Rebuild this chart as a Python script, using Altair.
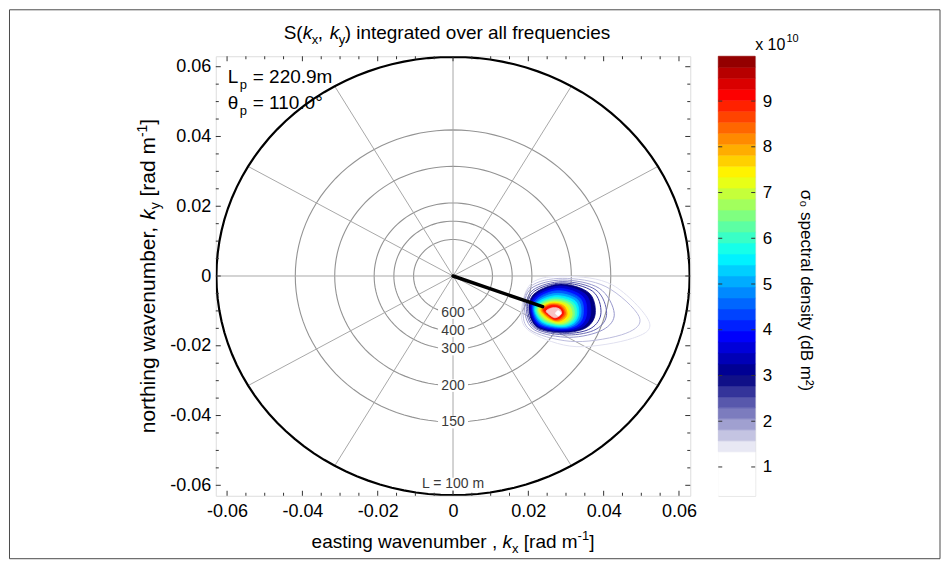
import math
import altair as alt
import pandas as pd

FONT = "Liberation Sans, Arial, Helvetica, DejaVu Sans, sans-serif"

# ---------------- data ----------------
X_DOMAIN = [-0.063, 0.063]
Y_DOMAIN = [-0.063, 0.063]
AXIS_TICKS = [-0.06, -0.04, -0.02, 0.0, 0.02, 0.04, 0.06]
MINOR_TICKS = [i * 0.005 for i in range(-12, 13) if i % 4 != 0]

RING_WAVELENGTHS = [600, 400, 300, 200, 150]      # m
RING_LABELS = ["600", "400", "300", "200", "150"]
OUTER_WAVELENGTH = 100
OUTER_LABEL = "L = 100 m"
SPOKE_ANGLES = list(range(0, 360, 30))

PEAK_TIP_KX = 0.0238
PEAK_TIP_KY = -0.0088

CB_MIN, CB_MAX = 0.37, 9.98
CB_TICKS = [1, 2, 3, 4, 5, 6, 7, 8, 9]
CB_NBANDS = 40

# contour lines (unfilled), k in 1e-3 rad/m
LINE_LEVELS = [1.5, 1.75, 2.0, 2.3, 2.6]
LINE_KX = [
    [18.15, 20.79, 30.04, 42.37, 52.07, 47.66, 32.68, 21.23],
    [18.59, 20.53, 29.16, 40.61, 49.42, 45.90, 32.68, 21.23],
    [19.03, 20.79, 29.16, 38.85, 42.81, 39.73, 30.92, 21.67],
    [19.47, 21.23, 29.16, 37.97, 40.79, 37.97, 30.48, 21.93],
    [19.82, 21.58, 28.98, 37.09, 39.29, 36.65, 30.04, 22.11],
]
LINE_KY = [
    [-11.17, -2.10, -0.10, -2.58, -13.08, -17.86, -20.25, -16.43],
    [-10.70, -3.06, -0.67, -3.06, -11.65, -16.43, -18.81, -15.95],
    [-9.74, -3.53, -1.15, -3.53, -10.70, -15.47, -17.57, -15.47],
    [-9.55, -4.01, -1.62, -4.01, -10.70, -15.28, -16.90, -15.09],
    [-9.36, -4.39, -2.00, -4.39, -10.50, -14.99, -16.43, -14.80],
]
# filled contours, k in 1e-3 rad/m
FILL_LEVELS = [3.0, 3.5, 4.0, 4.5, 5.0, 5.5, 6.0, 6.5, 7.0, 7.5, 8.0, 8.5, 9.0]
FILL_KX = [
    [20.17, 21.93, 28.72, 36.03, 37.79, 35.50, 29.60, 22.29],
    [20.53, 22.29, 28.54, 35.15, 36.56, 34.62, 29.33, 22.55],
    [20.88, 22.55, 28.28, 34.27, 35.50, 33.82, 29.16, 22.82],
    [21.14, 22.82, 28.01, 33.56, 34.62, 33.21, 28.98, 23.08],
    [21.41, 23.08, 27.84, 32.95, 34.00, 32.59, 28.81, 23.34],
    [21.67, 23.34, 27.66, 32.33, 33.39, 32.07, 28.63, 23.61],
    [21.93, 23.61, 27.49, 31.80, 32.86, 31.63, 28.45, 23.87],
    [22.29, 23.87, 27.31, 31.19, 32.24, 31.10, 28.28, 24.14],
    [22.64, 24.14, 27.13, 30.57, 31.63, 30.57, 28.10, 24.49],
    [22.99, 24.40, 27.04, 29.95, 30.92, 29.95, 27.84, 24.84],
    [23.34, 24.58, 26.96, 29.42, 30.30, 29.42, 27.57, 25.19],
    [23.70, 24.84, 26.87, 28.98, 29.86, 28.98, 27.31, 25.46],
    [24.05, 25.11, 26.78, 28.63, 29.42, 28.54, 27.04, 25.63],
]
FILL_KY = [
    [-9.26, -4.77, -2.29, -4.77, -10.50, -14.71, -16.14, -14.61],
    [-9.26, -5.16, -2.86, -5.25, -10.50, -14.42, -15.76, -14.32],
    [-9.26, -5.63, -3.53, -5.73, -10.50, -14.13, -15.37, -14.04],
    [-9.36, -6.11, -4.20, -6.21, -10.50, -13.85, -15.09, -13.75],
    [-9.45, -6.59, -4.97, -6.68, -10.50, -13.66, -14.80, -13.46],
    [-9.55, -6.97, -5.63, -7.07, -10.60, -13.46, -14.52, -13.18],
    [-9.64, -7.35, -6.21, -7.54, -10.70, -13.27, -14.23, -12.99],
    [-9.74, -7.64, -6.68, -7.83, -10.79, -13.08, -13.94, -12.70],
    [-9.74, -7.93, -7.16, -8.12, -10.89, -12.89, -13.66, -12.41],
    [-9.84, -8.21, -7.54, -8.40, -10.89, -12.61, -13.27, -12.13],
    [-9.84, -8.40, -7.83, -8.59, -10.79, -12.32, -12.99, -11.94],
    [-9.84, -8.59, -8.12, -8.79, -10.70, -12.13, -12.70, -11.75],
    [-9.84, -8.79, -8.40, -8.98, -10.60, -11.94, -12.41, -11.55],
]
CORE_COLORS = ["#f7c4c4", "#ffffff"]
CORE_KX = [
    [24.75, 25.63, 26.96, 28.28, 28.81, 28.10, 26.96, 25.81],
    [27.22, 27.93, 28.63, 27.93],
]
CORE_KY = [
    [-10.12, -9.36, -9.07, -9.45, -10.60, -11.55, -11.94, -11.27],
    [-10.70, -9.93, -10.70, -11.36],
]

# ---------------- layout / style ----------------
W, H = 475, 440
CBW = 37
RING_COLOR = "#939393"
SPOKE_COLOR = "#a8a8a8"
LABEL_COLOR = "#3a3a3a"

ARIAL = {' ': 278, ',': 278, '(': 333, ')': 333, '[': 278, ']': 278, '-': 333,
         '.': 278, '=': 584, 'a': 556, 'b': 556, 'c': 500, 'd': 556, 'e': 556,
         'f': 278, 'g': 556, 'h': 556, 'i': 222, 'k': 500, 'l': 222, 'm': 833,
         'n': 556, 'o': 556, 'p': 556, 'q': 556, 'r': 333, 's': 500, 't': 278,
         'u': 556, 'v': 500, 'w': 722, 'x': 500, 'y': 500, 'S': 667, 'L': 556}


def tw(s, size):
    return sum(ARIAL.get(c, 556) for c in s) * size / 1000.0


def hexc(r, g, b):
    return "#%02x%02x%02x" % (int(round(r * 255)), int(round(g * 255)), int(round(b * 255)))


def cmap(v):
    if v <= 1.3:
        return "#ffffff"
    if v < 3.0:
        t = (v - 1.3) / 1.7
        return hexc(1 - t, 1 - t, 1 - t * 0.5)
    t = min(max((v - 3.0) / 7.0, 0), 1)
    clip = lambda z: min(max(z, 0.0), 1.0)
    r = clip(min(4 * t - 1.5, -4 * t + 4.5))
    g = clip(min(4 * t - 0.5, -4 * t + 3.5))
    b = clip(min(4 * t + 0.5, -4 * t + 2.5))
    return hexc(r, g, b)


xs = alt.Scale(domain=X_DOMAIN, nice=False, zero=False)
ys = alt.Scale(domain=Y_DOMAIN, nice=False, zero=False)
LABEL_EXPR = "datum.value == 0 ? '0' : (datum.value < 0 ? '-' : '') + format(abs(datum.value), '.2f')"
xaxis = alt.Axis(values=AXIS_TICKS, labelExpr=LABEL_EXPR, ticks=False, domain=False,
                 grid=False, labelPadding=7, labelFontSize=18, labelFont=FONT, labelColor="black",
                 title=None)
yaxis = alt.Axis(values=AXIS_TICKS, labelExpr=LABEL_EXPR, ticks=False, domain=False,
                 grid=False, labelPadding=5, labelFontSize=18, labelFont=FONT, labelColor="black",
                 title=None)


def X(field="kx"):
    return alt.X(field + ":Q", scale=xs)


def Y(field="ky"):
    return alt.Y(field + ":Q", scale=ys)


# ---------------- frames ----------------
ring_rows = []
for L in RING_WAVELENGTHS + [OUTER_WAVELENGTH]:
    k = 2 * math.pi / L
    for i, a in enumerate(range(0, 361, 3)):
        ring_rows.append({"L": L, "i": i, "kx": k * math.cos(math.radians(a)),
                          "ky": k * math.sin(math.radians(a))})
ring_df = pd.DataFrame(ring_rows)

kout = 2 * math.pi / OUTER_WAVELENGTH
spoke_df = pd.DataFrame({
    "kx": [0.0] * len(SPOKE_ANGLES), "ky": [0.0] * len(SPOKE_ANGLES),
    "kx2": [kout * math.cos(math.radians(a)) for a in SPOKE_ANGLES],
    "ky2": [kout * math.sin(math.radians(a)) for a in SPOKE_ANGLES],
})

label_df = pd.DataFrame({"kx": [0.0] * len(RING_WAVELENGTHS),
                         "ky": [-2 * math.pi / L for L in RING_WAVELENGTHS],
                         "t": RING_LABELS})
outer_label_df = pd.DataFrame({"kx": [0.0], "ky": [-kout * 0.949], "t": [OUTER_LABEL]})

contour_rows = []
groups = []
gi = 0
for lev, kxs, kys in zip(LINE_LEVELS, LINE_KX, LINE_KY):
    groups.append((gi, "line", cmap(lev)))
    for i, (a, b) in enumerate(zip(kxs, kys)):
        contour_rows.append({"c": gi, "i": i, "kx": a * 1e-3, "ky": b * 1e-3})
    gi += 1
for lev, kxs, kys in zip(FILL_LEVELS, FILL_KX, FILL_KY):
    groups.append((gi, "fill", cmap(lev)))
    for i, (a, b) in enumerate(zip(kxs, kys)):
        contour_rows.append({"c": gi, "i": i, "kx": a * 1e-3, "ky": b * 1e-3})
    gi += 1
for col, kxs, kys in zip(CORE_COLORS, CORE_KX, CORE_KY):
    groups.append((gi, "fill", col))
    for i, (a, b) in enumerate(zip(kxs, kys)):
        contour_rows.append({"c": gi, "i": i, "kx": a * 1e-3, "ky": b * 1e-3})
    gi += 1
contour_df = pd.DataFrame(contour_rows)

arrow_df = pd.DataFrame({"i": [0, 1], "kx": [0.0, PEAK_TIP_KX], "ky": [0.0, PEAK_TIP_KY]})
major_df = pd.DataFrame({"kx": AXIS_TICKS, "ky": AXIS_TICKS})
minor_df = pd.DataFrame({"kx": MINOR_TICKS, "ky": MINOR_TICKS})
one = pd.DataFrame({"d": [0]})

layers = []
# rings (carry the axes)
layers.append(
    alt.Chart(ring_df).transform_filter(alt.datum.L != OUTER_WAVELENGTH)
    .mark_line(color=RING_COLOR, strokeWidth=1.1)
    .encode(x=alt.X("kx:Q", scale=xs, axis=xaxis), y=alt.Y("ky:Q", scale=ys, axis=yaxis),
            detail="L:N", order="i:Q")
)
# figure border (page frame)
layers.append(
    alt.Chart(one).mark_rect(fillOpacity=0, stroke="#4a4a4a", strokeWidth=1).encode(
        x=alt.value(-206.5), x2=alt.value(725), y=alt.value(-46.5), y2=alt.value(503))
)
layers.append(
    alt.Chart(spoke_df).mark_rule(color=SPOKE_COLOR, strokeWidth=1)
    .encode(x=X(), y=Y(), x2="kx2:Q", y2="ky2:Q")
)
layers.append(
    alt.Chart(ring_df).transform_filter(alt.datum.L == OUTER_WAVELENGTH)
    .mark_line(color="black", strokeWidth=2.2, clip=True)
    .encode(x=X(), y=Y(), order="i:Q")
)
# label backgrounds and labels
layers.append(
    alt.Chart(label_df).mark_point(shape="M-1,-0.42L1,-0.42L1,0.42L-1,0.42Z", size=900,
                                   filled=True, color="white", opacity=1, strokeWidth=0)
    .encode(x=X(), y=Y())
)
layers.append(
    alt.Chart(outer_label_df).mark_point(shape="M-1,-0.17L1,-0.17L1,0.17L-1,0.17Z", size=5600,
                                         filled=True, color="white", opacity=1, strokeWidth=0)
    .encode(x=X(), y=Y())
)
layers.append(
    alt.Chart(label_df).mark_text(font=FONT, fontSize=14, color=LABEL_COLOR, baseline="middle")
    .encode(x=X(), y=Y(), text="t:N")
)
layers.append(
    alt.Chart(outer_label_df).mark_text(font=FONT, fontSize=14, color=LABEL_COLOR, baseline="middle")
    .encode(x=X(), y=Y(), text="t:N")
)
# contours
for c, kind, col in groups:
    if kind == "line":
        mk = alt.Chart(contour_df).transform_filter(alt.datum.c == c).mark_line(
            interpolate="cardinal-closed", color=col, strokeWidth=1)
    else:
        mk = alt.Chart(contour_df).transform_filter(alt.datum.c == c).mark_line(
            interpolate="cardinal-closed", color=col, fill=col, strokeWidth=0.8)
    layers.append(mk.encode(x=X(), y=Y(), order="i:Q"))
# peak vector
layers.append(
    alt.Chart(arrow_df).mark_line(color="black", strokeWidth=3.5, strokeCap="round")
    .encode(x=X(), y=Y(), order="i:Q")
)
# inward ticks
for df, ln in ((major_df, 5), (minor_df, 3)):
    layers.append(alt.Chart(df).mark_rule(color="#333333", strokeWidth=1)
                  .encode(x=X(), y=alt.value(H), y2=alt.value(H - ln)))
    layers.append(alt.Chart(df).mark_rule(color="#333333", strokeWidth=1)
                  .encode(x=X(), y=alt.value(0), y2=alt.value(ln)))
    layers.append(alt.Chart(df).mark_rule(color="#333333", strokeWidth=1)
                  .encode(y=Y(), x=alt.value(0), x2=alt.value(ln)))
    layers.append(alt.Chart(df).mark_rule(color="#333333", strokeWidth=1)
                  .encode(y=Y(), x=alt.value(W), x2=alt.value(W - ln)))


def txt(text, x, y, size, style="normal", dx=0, dy=0, angle=0, color="black"):
    # SVG drops leading blanks: move the start instead
    n = len(text) - len(text.lstrip(" "))
    shift = tw(" " * n, size)
    text = text.strip(" ")
    if angle:
        dx += shift
    else:
        x += shift
    return alt.Chart(one).mark_text(text=text, font=FONT, fontSize=size, fontStyle=style,
                                    dx=dx, dy=dy, angle=angle, align="left",
                                    baseline="alphabetic", color=color).encode(
        x=alt.value(x), y=alt.value(y))


# title  S(k_x,  k_y) integrated over all frequencies
TB = -17
for t, x, dy, sz, st in [("S(", 68, 0, 19, "normal"), ("k", 87, 0, 19, "italic"),
                         ("x", 96, 5, 13, "normal"), (",", 102, 0, 19, "normal"),
                         ("k", 114, 0, 19, "italic"), ("y", 123, 5, 13, "normal"),
                         (") integrated over all frequencies", 129, 0, 19, "normal")]:
    layers.append(txt(t, x, TB, sz, st, dy=dy))

# annotations L_p, theta_p
for base, sym, rest in [(27, "L", "= 220.9m"), (53, "θ", "= 110.0°")]:
    layers.append(txt(sym, 12, base, 19))
    layers.append(txt("p", 24, base, 13, dy=6))
    layers.append(txt(rest, 37, base, 19))


# axis titles with italics / sub- and superscripts
def pieces(head, sub, big, small):
    return [(head, big, "normal", 0), ("k", big, "italic", 0), (sub, small, "normal", 5),
            (" [rad m", big, "normal", 0), ("-1", small, "normal", -8), ("]", big, "normal", 0)]


xp = pieces("easting wavenumber , ", "x", 19, 13)
tot = sum(tw(t, s) for t, s, _, _ in xp)
cx = W / 2 - tot / 2
for t, s, st, dy in xp:
    layers.append(txt(t, cx, H + 52, s, st, dy=dy))
    cx += tw(t, s)

yp = pieces("northing wavenumber, ", "y", 21, 14)
tot = sum(tw(t, s) for t, s, _, _ in yp)
off = 0
for t, s, st, dy in yp:
    layers.append(txt(t, -61, H / 2 + tot / 2, s, st, dx=off, dy=dy, angle=270))
    off += tw(t, s)

main = alt.layer(*layers).properties(width=W, height=H)

# ---------------- colorbar ----------------
step = (CB_MAX - CB_MIN) / CB_NBANDS
cb_df = pd.DataFrame({
    "lo": [CB_MIN + i * step for i in range(CB_NBANDS)],
    "hi": [CB_MIN + (i + 1) * step for i in range(CB_NBANDS)],
    "col": [cmap(CB_MIN + (i + 0.5) * step) for i in range(CB_NBANDS)],
})
cbs = alt.Scale(domain=[CB_MIN, CB_MAX], nice=False, zero=False)
cb_axis = alt.Axis(orient="right", values=CB_TICKS, ticks=False, domain=False, grid=False,
                   labelPadding=7, labelFontSize=17, labelFont=FONT, labelColor="black",
                   title="σ₀ spectral density (dB m²)", titleFont=FONT, titleFontSize=17,
                   titleFontWeight="normal", titleColor="black", titlePadding=25, titleY=234)
cb_ticks_df = pd.DataFrame({"lo": CB_TICKS})
cb_layers = [
    alt.Chart(cb_df).mark_rect(strokeWidth=0.6).encode(
        x=alt.value(0), x2=alt.value(CBW),
        y=alt.Y("lo:Q", scale=cbs, axis=cb_axis), y2="hi:Q",
        color=alt.Color("col:N", scale=None), stroke=alt.Stroke("col:N", scale=None)),
    alt.Chart(cb_ticks_df).mark_rule(color="#333333").encode(
        y=alt.Y("lo:Q", scale=cbs), x=alt.value(0), x2=alt.value(4)),
    alt.Chart(cb_ticks_df).mark_rule(color="#333333").encode(
        y=alt.Y("lo:Q", scale=cbs), x=alt.value(CBW - 4), x2=alt.value(CBW)),
    txt("x 10", CBW, -6, 16),
    txt("10", CBW + tw("x 10", 16) + 1, -14, 11),
]
cbar = alt.layer(*cb_layers).properties(width=CBW, height=H)

chart = (
    alt.hconcat(main, cbar, spacing=28, bounds="flush")
    .properties(padding={"left": 0, "top": 0, "right": 0, "bottom": 0})
    .configure_view(stroke="#404040", strokeWidth=1)
    .configure(font=FONT, background="white")
)
chart.save("out.html", embed_options={"renderer": "svg", "actions": False})
